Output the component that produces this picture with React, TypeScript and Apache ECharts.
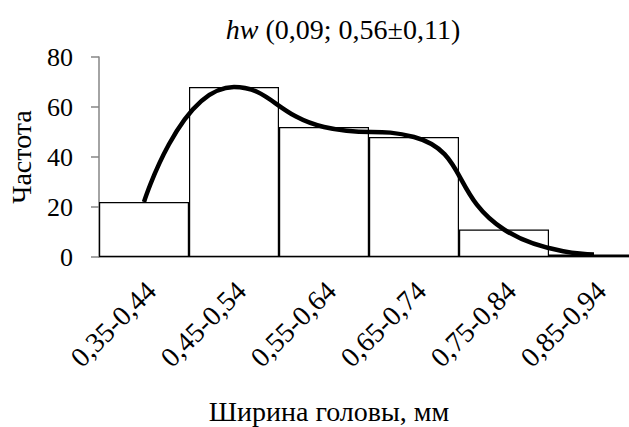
import React, { useEffect, useRef } from "react";
import * as echarts from "echarts";

const categories = ["0,35-0,44", "0,45-0,54", "0,55-0,64", "0,65-0,74", "0,75-0,84", "0,85-0,94"];
const frequencies = [22, 68, 52, 48, 11, 1];
const yTicks = { min: 0, max: 80, interval: 20 };
const FONT = "'Liberation Serif', 'Times New Roman', serif";

export default function App() {
  const ref = useRef<HTMLDivElement>(null);
  useEffect(() => {
    document.body.style.margin = "0";
    const chart = echarts.init(ref.current!, null, { renderer: "svg" });
    chart.setOption({
      animation: false,
      backgroundColor: "#ffffff",
      title: {
        text: "{i|hw} (0,09; 0,56±0,11)",
        left: 338,
        top: 10,
        textAlign: "center",
        textStyle: {
          fontFamily: FONT,
          fontSize: 28,
          fontWeight: "normal",
          color: "#000",
          rich: {
            i: { fontFamily: FONT, fontSize: 28, fontStyle: "italic", color: "#000" },
          },
        },
      },
      grid: { left: 99, top: 57, width: 540, height: 200, containLabel: false, outerBoundsMode: "none" },
      xAxis: {
        type: "category",
        data: categories,
        boundaryGap: true,
        axisLine: { show: true, lineStyle: { color: "#868686", width: 1.5 } },
        axisTick: { show: false },
        axisLabel: {
          rotate: 45,
          margin: 22,
          verticalAlign: "top",
          lineHeight: 20,
          fontFamily: FONT,
          fontSize: 28,
          color: "#000",
          interval: 0,
        },
        name: "Ширина головы, мм",
        nameLocation: "middle",
        nameGap: 140,
        nameTextStyle: {
          fontFamily: FONT,
          fontSize: 28,
          color: "#000",
          padding: [0, 80, 0, 0],
        },
      },
      yAxis: {
        type: "value",
        min: yTicks.min,
        max: yTicks.max,
        interval: yTicks.interval,
        axisLine: { show: true, lineStyle: { color: "#868686", width: 1.5 } },
        axisTick: { show: true, length: 8, lineStyle: { color: "#868686", width: 1.5 } },
        splitLine: { show: false },
        axisLabel: { fontFamily: FONT, fontSize: 26, color: "#000", margin: 26 },
        name: "Частота",
        nameLocation: "middle",
        nameGap: 64,
        nameTextStyle: { fontFamily: FONT, fontSize: 28, color: "#000" },
      },
      series: [
        {
          type: "bar",
          data: frequencies,
          barCategoryGap: "0%",
          itemStyle: { color: "#ffffff", borderColor: "#000", borderWidth: 1.2 },
          z: 1,
        },
        {
          type: "line",
          data: frequencies,
          smooth: 0.5,
          showSymbol: false,
          symbol: "none",
          lineStyle: { color: "#000", width: 4.5 },
          z: 3,
        },
      ],
    });
    return () => chart.dispose();
  }, []);
  return <div ref={ref} style={{ width: 629, height: 427 }} />;
}
